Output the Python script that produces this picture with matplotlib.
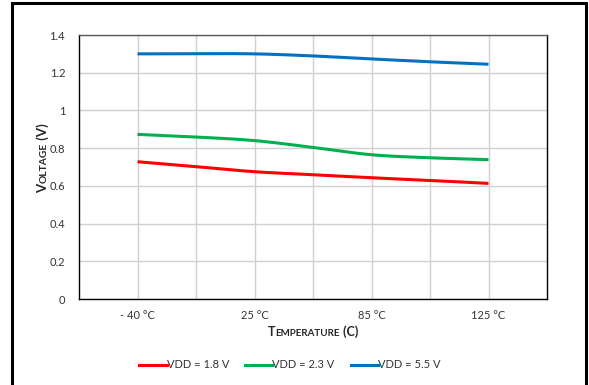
import matplotlib
matplotlib.use("Agg")
import matplotlib.pyplot as plt
from matplotlib.patches import Rectangle
from matplotlib.lines import Line2D
import numpy as np

categories = ["- 40 °C", "", "25 °C", "", "85 °C", "", "125 °C"]
vdd_18 = [0.728, 0.702, 0.675, 0.659, 0.643, 0.629, 0.613]
vdd_23 = [0.873, 0.859, 0.840, 0.804, 0.765, 0.749, 0.739]
vdd_55 = [1.300, 1.301, 1.300, 1.289, 1.273, 1.258, 1.245]
series_names = ["VDD = 1.8 V", "VDD = 2.3 V", "VDD = 5.5 V"]
colors = ["#FF0000", "#00B050", "#0070C0"]
yticks = [0, 0.2, 0.4, 0.6, 0.8, 1, 1.2, 1.4]
ytick_labels = ["0", "0.2", "0.4", "0.6", "0.8", "1", "1.2", "1.4"]

FONT = "Lato"
plt.rcParams["font.family"] = [FONT, "DejaVu Sans"]

W, H = 589, 385
fig = plt.figure(figsize=(W / 100, H / 100), dpi=100)
ax = fig.add_axes([79 / W, 1 - 299 / H, (547 - 79) / W, (299 - 35) / H])


def smooth(xs, ys, n=30):
    xs = np.asarray(xs, float)
    ys = np.asarray(ys, float)
    P = np.column_stack([xs, ys])
    out = [P[0]]
    for i in range(len(P) - 1):
        p0 = P[i - 1] if i > 0 else P[i]
        p1 = P[i]
        p2 = P[i + 1]
        p3 = P[i + 2] if i + 2 < len(P) else P[i + 1]
        c1 = p1 + (p2 - p0) / 6
        c2 = p2 - (p3 - p1) / 6
        t = np.linspace(0, 1, n)[1:, None]
        seg = (1 - t) ** 3 * p1 + 3 * (1 - t) ** 2 * t * c1 + 3 * (1 - t) * t ** 2 * c2 + t ** 3 * p2
        out.extend(seg)
    out = np.array(out)
    return out[:, 0], out[:, 1]


x = np.arange(len(categories))
for vals, c, name in zip([vdd_18, vdd_23, vdd_55], colors, series_names):
    sx, sy = smooth(x, vals)
    ax.plot(sx, sy, color=c, lw=2.2, solid_capstyle="butt", label=name, zorder=3)

ax.set_xlim(-1, len(categories))
ax.set_ylim(0, 1.4)
ax.set_yticks(yticks)
ax.set_yticklabels(ytick_labels)
ax.set_xticks(x)
ax.set_xticklabels(categories)
ax.tick_params(length=0, labelsize=8, colors="#333333", pad=8)
ax.tick_params(axis="y", pad=10)
ax.grid(True, color="#D0D0D0", lw=1.0)
ax.set_axisbelow(True)
for s in ["left", "bottom", "right"]:
    ax.spines[s].set_color("#000000")
    ax.spines[s].set_linewidth(1.0)
ax.spines["top"].set_color("#595959")
ax.spines["top"].set_linewidth(1.0)

# outer frame
fig.patches.append(Rectangle((12 / W, -0.05), (586 - 12) / W, 1 - 3 / H + 0.05,
                             transform=fig.transFigure, fill=False,
                             edgecolor="black", lw=2.2, zorder=10))


def small_caps(text, x_px, y_px, big=9.0, small=7.0, rotation=0):
    """Draw Excel-like small caps text centered at (x_px, y_px) in pixel coords (y from top)."""
    pieces = []
    cur = ""
    cur_up = None
    for ch in text:
        up = not ch.islower()
        if cur_up is None or up == cur_up:
            cur += ch
        else:
            pieces.append((cur, cur_up))
            cur = ch
        cur_up = up
    pieces.append((cur, cur_up))
    r = fig.canvas.get_renderer()
    arts = []
    widths = []
    for s, up in pieces:
        t = fig.text(0, 0, s.upper(), fontsize=big if up else small, fontweight="bold",
                     rotation=rotation, ha="left", va="baseline", color="#262626",
                     rotation_mode="anchor")
        bb = t.get_window_extent(r)
        widths.append(bb.height if rotation == 90 else bb.width)
        arts.append(t)
    total = sum(widths)
    pos = -total / 2
    for t, w in zip(arts, widths):
        if rotation == 90:
            t.set_position((x_px / W, (H - y_px + pos) / H))
        else:
            t.set_position(((x_px + pos) / W, 1 - y_px / H))
        pos += w


small_caps("Temperature (C)", 313, 336)
small_caps("Voltage (V)", 47, 158, big=9.5, small=7.4, rotation=90)

handles = [Line2D([], [], color=c, lw=2.2) for c in colors]
fig.legend(handles, series_names, loc="center", bbox_to_anchor=(290 / W, 1 - 365 / H),
           ncol=3, frameon=False, fontsize=8, handlelength=2.45, handletextpad=0.0,
           columnspacing=1.45, labelcolor="#333333", borderpad=0, borderaxespad=0)

fig.savefig("out.png", dpi=100)
